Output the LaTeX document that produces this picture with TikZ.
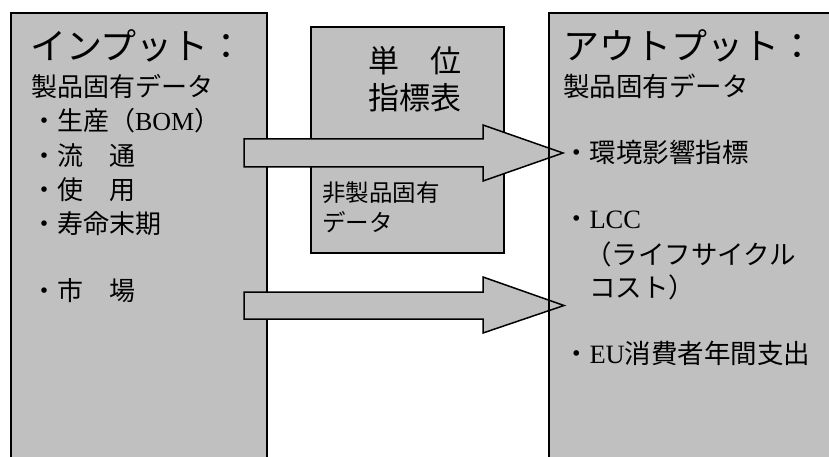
\documentclass[tikz,border=0pt]{standalone}
\usepackage{fontspec}
\setmainfont{Liberation Serif}
\newfontfamily\jp{Noto Sans CJK JP}
\usetikzlibrary{calc}
\definecolor{boxgray}{HTML}{C0C0C0}
\newcommand\fsz[1]{\fontsize{#1pt}{#1pt}\selectfont}
\begin{document}
\begin{tikzpicture}[x=1pt,y=-1pt,
  panel/.style={draw=black, line width=1.8pt, fill=boxgray, inner sep=0pt, outer sep=0pt, anchor=north west},
  midpanel/.style={panel, line width=1.3pt},
  blockarrow/.style={draw=black, line width=1.5pt, fill=boxgray, line join=miter},
  txt/.style={anchor=base west, inner sep=0pt, outer sep=0pt, text=black}]
\useasboundingbox (0,0) rectangle (829,457);
\clip (0,0) rectangle (829,457);

% boxes
\node[panel, minimum width=256pt, minimum height=460pt] (inbox) at (11,13) {};
\node[midpanel, minimum width=193pt, minimum height=226pt] (unitbox) at (311,27) {};
\node[panel, draw=none, minimum width=300pt, minimum height=460pt] (outbox) at (549,13) {};

% arrows
\coordinate (a1s) at (244,153);
\coordinate (a1t) at (563,153);
\coordinate (a2s) at (244,305.5);
\coordinate (a2t) at (564,305.5);
\draw[blockarrow] ($(a1s)+(0,-14)$) -- ($(a1t)+(-80,-14)$) -- ($(a1t)+(-80,-28)$) -- (a1t)
  -- ($(a1t)+(-80,28)$) -- ($(a1t)+(-80,14)$) -- ($(a1s)+(0,14)$) -- cycle;
\draw[blockarrow] ($(a2s)+(0,-13.5)$) -- ($(a2t)+(-81,-13.5)$) -- ($(a2t)+(-81,-28.5)$) -- (a2t)
  -- ($(a2t)+(-81,27.5)$) -- ($(a2t)+(-81,13.5)$) -- ($(a2s)+(0,13.5)$) -- cycle;

% right box border on top
\draw[line width=1.8pt] (outbox.south west) -- (outbox.north west) -- (outbox.north east);

% left texts
\node[txt, font=\jp\fsz{36}] (inTitle) at (30,60) {インプット：};
\node[txt, font=\jp\fsz{26}] (inSub) at (31,97) {製品固有データ};
\node[txt, font=\jp\fsz{26}] (inA) at (31,131) {・生産（{\rmfamily BOM}）};
\node[txt, font=\jp\fsz{26}] (inB) at (31,166) {・流　通};
\node[txt, font=\jp\fsz{26}] (inC) at (31,200) {・使　用};
\node[txt, font=\jp\fsz{26}] (inD) at (31,233) {・寿命末期};
\node[txt, font=\jp\fsz{26}] (inE) at (31,300) {・市　場};

% middle texts
\node[txt, font=\jp\fsz{31}] (uA) at (368,73) {単　位};
\node[txt, font=\jp\fsz{31}] (uB) at (368,110) {指標表};
\node[txt, font=\jp\fsz{23.5}] (uC) at (322,201) {非製品固有};
\node[txt, font=\jp\fsz{23.5}] (uD) at (322,231) {データ};

% right texts
\node[txt, font=\jp\fsz{36}] (outTitle) at (563,60) {アウトプット：};
\node[txt, font=\jp\fsz{26.5}] (outSub) at (563,97) {製品固有データ};
\node[txt, font=\jp\fsz{26.5}] (outA) at (563,163) {・環境影響指標};
\node[txt, font=\jp\fsz{26.5}] (outB) at (563,228) {・{\rmfamily LCC}};
\node[txt, font=\jp\fsz{26.5}] (outC) at (585,264) {（ライフサイクル};
\node[txt, font=\jp\fsz{26.5}] (outD) at (589,297) {コスト）};
\node[txt, font=\jp\fsz{26.5}] (outE) at (563,363) {・{\rmfamily EU}消費者年間支出};
\end{tikzpicture}
\end{document}
